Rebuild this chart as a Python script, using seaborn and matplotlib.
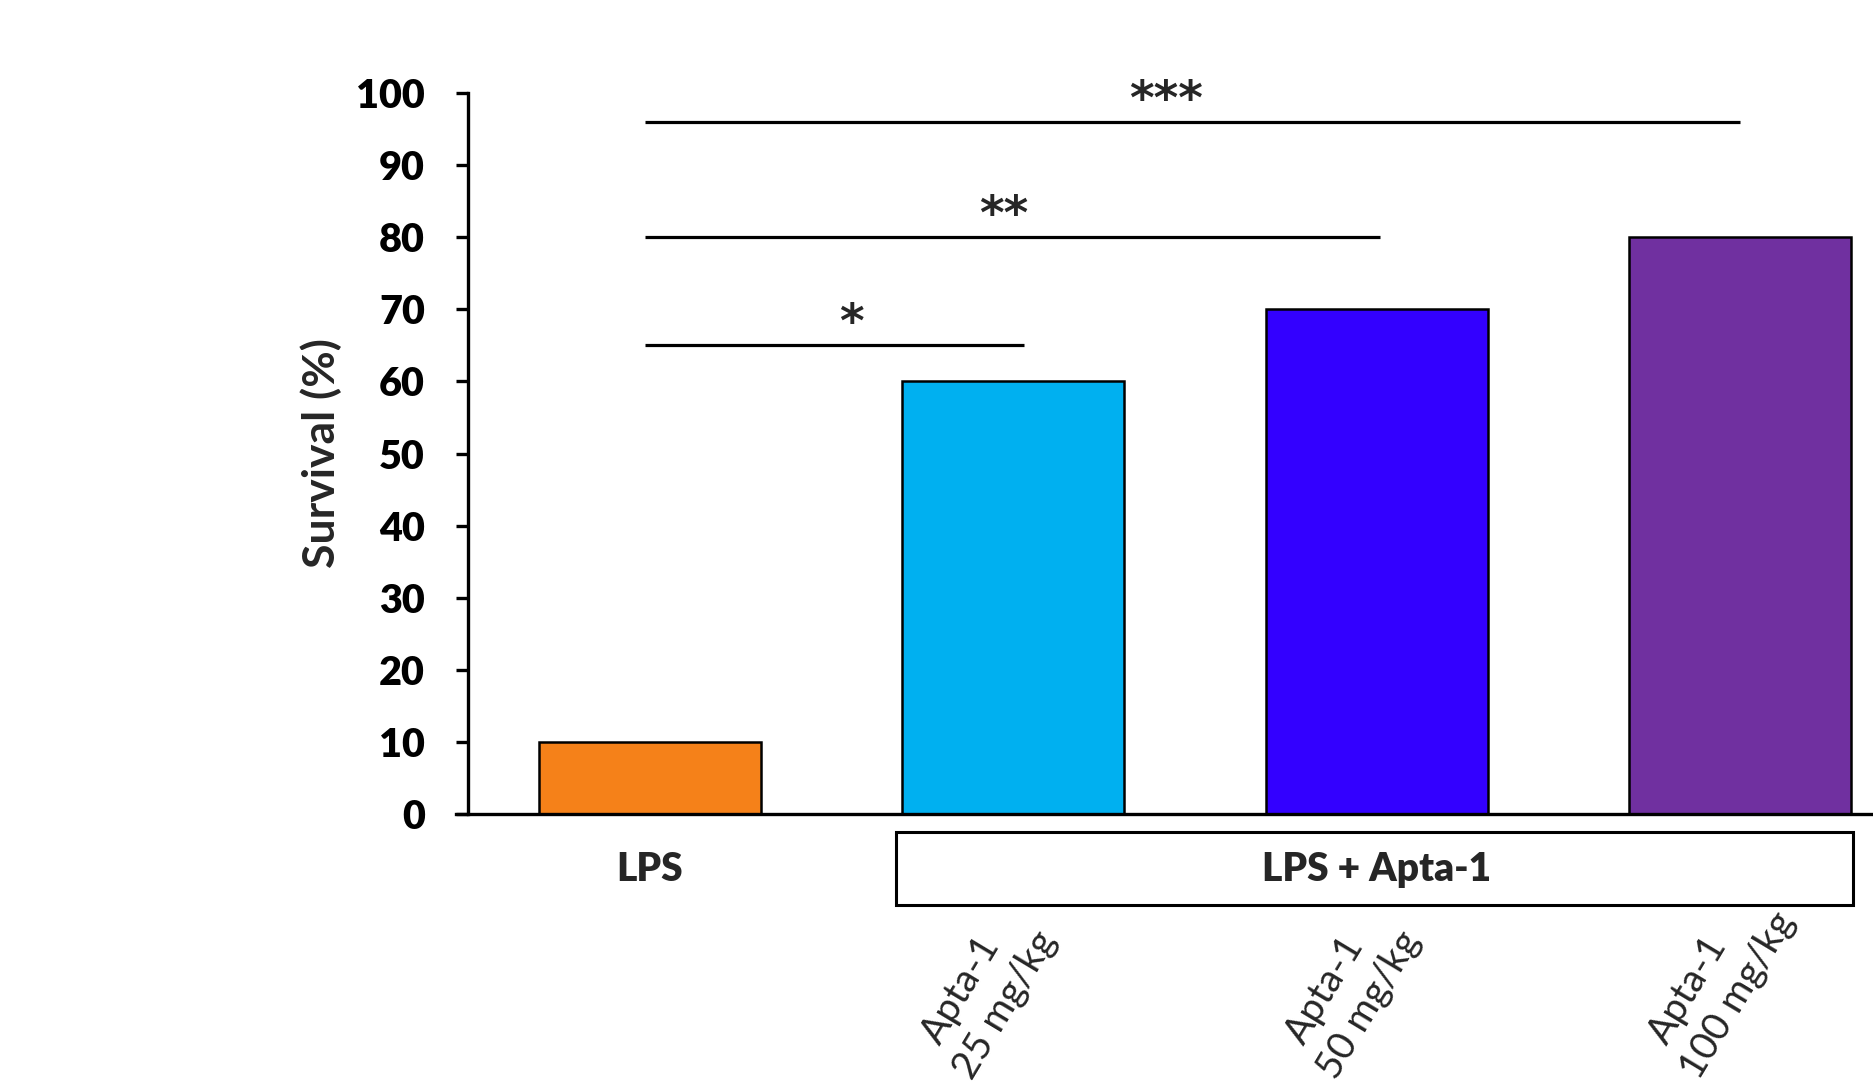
import matplotlib
matplotlib.use("Agg")
import matplotlib.pyplot as plt
from matplotlib.patches import Rectangle
import seaborn as sns
import pandas as pd

# Survival per treatment group
groups = ["LPS", "Apta-1 25 mg/kg", "Apta-1 50 mg/kg", "Apta-1 100 mg/kg"]
survival = [10, 60, 70, 80]
bar_colors = ["#F58119", "#00B0F0", "#3300FF", "#7030A0"]
dose_line1 = ["", "Apta-1", "Apta-1", "Apta-1"]
dose_line2 = ["", "25 mg/kg", "50 mg/kg", "100 mg/kg"]
y_ticks = [0, 10, 20, 30, 40, 50, 60, 70, 80, 90, 100]

# Significance brackets versus LPS
sig_start = [-0.013, -0.013, -0.013]
sig_end = [1.03, 2.008, 3.0]
sig_level = [65, 80, 96]
sig_marks = ["*", "**", "***"]
sig_mark_x = [0.555, 0.973, 1.42]

df = pd.DataFrame({"group": groups, "survival": survival})

sns.set_theme(style="white")
plt.rcParams["font.family"] = ["Lato", "DejaVu Sans"]

fig = plt.figure(figsize=(18.74, 10.81), dpi=100)
ax = fig.add_axes([0.2497, 0.2467, 0.776, 0.6675])

sns.barplot(data=df, x="group", y="survival", hue="group",
            palette=dict(zip(groups, bar_colors)), legend=False,
            width=0.611, edgecolor="black", linewidth=1.8, saturation=1,
            ax=ax)

ax.set_xlim(-0.5, 3.5)
ax.set_ylim(0, 100)
ax.set_yticks(y_ticks)
ax.set_yticklabels([str(t) for t in y_ticks], fontsize=28.5, fontweight="heavy")
ax.tick_params(axis="y", direction="out", length=9, width=2.4, pad=22,
               left=True, colors="black")
ax.tick_params(axis="x", bottom=False, labelbottom=False)
ax.set_xlabel("")
ax.set_ylabel("Survival (%)", fontsize=32, fontweight="bold", labelpad=10)

for side in ["top", "right"]:
    ax.spines[side].set_visible(False)
for side in ["left", "bottom"]:
    ax.spines[side].set_color("black")
    ax.spines[side].set_linewidth(2.4)
ax.spines["bottom"].set_bounds(-0.5 - 12 / 363.5, 3.5)

# Significance bars and stars
for x0, x1, lvl, mark, mx in zip(sig_start, sig_end, sig_level, sig_marks,
                                 sig_mark_x):
    ax.plot([x0, x1], [lvl, lvl], color="black", lw=2.3, solid_capstyle="butt",
            clip_on=False)
    ax.text(mx, lvl - 0.3, mark, ha="center", va="bottom", fontsize=34,
            fontweight="bold", family="DejaVu Sans", clip_on=False)

# Group labels under the axis
ax.text(0, -7.6, "LPS", ha="center", va="center", fontsize=28,
        fontweight="heavy", clip_on=False)
ax.add_patch(Rectangle((0.677, -12.6), 3.309 - 0.677, 10.1, fill=False,
                       edgecolor="black", lw=2.2, clip_on=False))
ax.text(2.0, -7.6, "LPS + Apta-1", ha="center", va="center", fontsize=28,
        fontweight="heavy", clip_on=False)

# Rotated dose labels, two left-aligned lines each (offsets in pixels)
angle = 59
px_x, px_y = 363.5, 7.217          # pixels per x unit / per y unit
y0_px = 814.3                      # pixel row of y = 0
line_starts = [(-73, 1046), (-41, 1081)]
for i, (l1, l2) in enumerate(zip(dose_line1, dose_line2)):
    if not l1:
        continue
    for (dx, py), s in zip(line_starts, (l1, l2)):
        ax.text(i + dx / px_x, (y0_px - py) / px_y, s, rotation=angle,
                rotation_mode="anchor", ha="left", va="baseline",
                fontsize=28, clip_on=False)

fig.savefig("out.png", dpi=100, facecolor="white")
